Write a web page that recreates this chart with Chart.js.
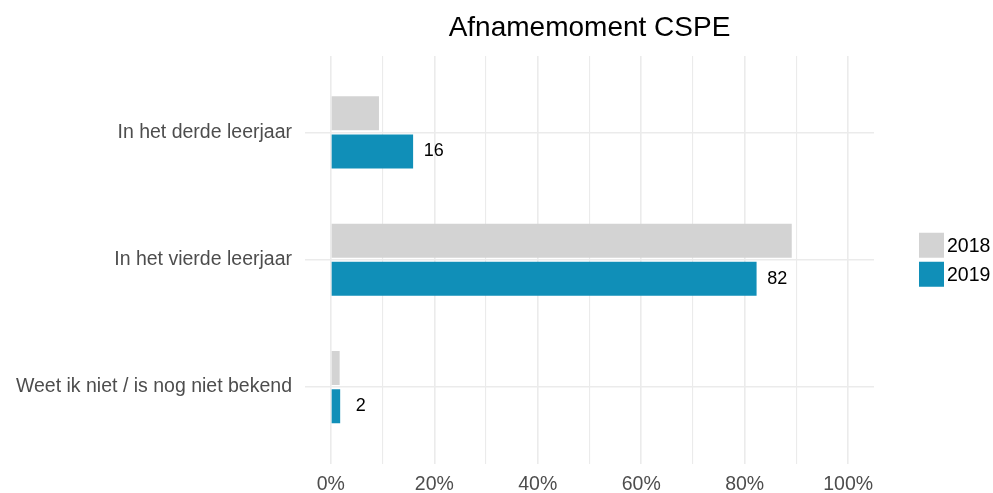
<!DOCTYPE html>
<html>
<head>
<meta charset="utf-8">
<script src="https://cdn.jsdelivr.net/npm/chart.js@4.4.1/dist/chart.umd.min.js"></script>
<style>
  html, body { margin: 0; padding: 0; background: #fff; }
</style>
</head>
<body>
<canvas id="chartCspe" width="993" height="493"></canvas>
<script>
// data
const categories = ['In het derde leerjaar', 'In het vierde leerjaar', 'Weet ik niet / is nog niet bekend'];
const years = ['2018', '2019'];
const values2018 = [9.3, 89.1, 1.7];
const values2019 = [15.9, 82.3, 1.8];
const xTicks = [0, 10, 20, 30, 40, 50, 60, 70, 80, 90, 100];

const colors = ['#d3d3d3', '#108fb8'];
const fontFamily = "'Liberation Sans', Arial, sans-serif";

// labels naast de 2019 balken
const valueLabels = {
    id: 'valueLabels',
    afterDatasetsDraw(chart) {
        const ctx = chart.ctx;
        const xScale = chart.scales.x;
        const meta = chart.getDatasetMeta(1);
        ctx.save();
        ctx.font = '18px ' + fontFamily;
        ctx.fillStyle = '#000';
        ctx.textAlign = 'center';
        ctx.textBaseline = 'middle';
        meta.data.forEach((bar, i) => {
            const v = values2019[i];
            ctx.fillText(String(Math.round(v)), xScale.getPixelForValue(v + 4), bar.y);
        });
        ctx.restore();
    }
};

// legenda rechts, ggplot-stijl
const sideLegend = {
    id: 'sideLegend',
    afterDraw(chart) {
        const ctx = chart.ctx;
        const area = chart.chartArea;
        const key = 25, step = 29;
        const x = 919;
        const y0 = (area.top + area.bottom) / 2 - (step + key) / 2;
        ctx.save();
        ctx.font = '19.5px ' + fontFamily;
        ctx.textBaseline = 'middle';
        ctx.textAlign = 'left';
        chart.data.datasets.forEach((ds, i) => {
            const y = y0 + i * step;
            ctx.fillStyle = ds.backgroundColor;
            ctx.fillRect(x, y, key, key);
            ctx.fillStyle = '#000';
            ctx.fillText(ds.label, x + key + 3, y + key / 2 + 1);
        });
        ctx.restore();
    }
};

const toPoints = arr => arr.map((v, i) => ({ x: v, y: i + 1 }));

new Chart(document.getElementById('chartCspe'), {
    type: 'bar',
    data: {
        datasets: [
            { label: years[0], data: toPoints(values2018), backgroundColor: colors[0] },
            { label: years[1], data: toPoints(values2019), backgroundColor: colors[1] }
        ]
    },
    options: {
        responsive: false,
        animation: false,
        indexAxis: 'y',
        categoryPercentage: 0.6,
        barPercentage: 0.89,
        layout: { padding: { top: 0, right: 119, bottom: 0, left: 0 } },
        plugins: {
            legend: { display: false },
            tooltip: { enabled: false },
            title: {
                display: true,
                text: 'Afnamemoment CSPE',
                fullSize: false,
                color: '#000',
                font: { family: fontFamily, size: 28, weight: 'normal' },
                padding: { top: 11, bottom: 11.4 }
            }
        },
        scales: {
            x: {
                type: 'linear',
                min: -5,
                max: 105,
                afterBuildTicks: s => { s.ticks = xTicks.map(v => ({ value: v })); },
                afterFit: s => { s.height = 29.5; },
                border: { display: false },
                grid: {
                    color: '#ebebeb',
                    lineWidth: c => (c.tick && c.tick.value % 20 === 0) ? 1.6 : 1.1,
                    drawTicks: false
                },
                ticks: {
                    autoSkip: false,
                    maxRotation: 0,
                    padding: 9.5,
                    color: '#4d4d4d',
                    font: { family: fontFamily, size: 19.5 },
                    callback: v => v % 20 === 0 ? v + '%' : ''
                }
            },
            y: {
                type: 'linear',
                min: 0.4,
                max: 3.6,
                reverse: true,
                offset: false,
                afterBuildTicks: s => { s.ticks = categories.map((_, i) => ({ value: i + 1 })); },
                afterFit: s => { s.width = 305; },
                border: { display: false },
                grid: { color: '#ebebeb', lineWidth: 1.6, drawTicks: false, offset: false },
                ticks: {
                    autoSkip: false,
                    padding: 13,
                    color: '#4d4d4d',
                    font: { family: fontFamily, size: 19.5 },
                    callback: v => categories[v - 1]
                }
            }
        }
    },
    plugins: [valueLabels, sideLegend]
});
</script>
</body>
</html>
